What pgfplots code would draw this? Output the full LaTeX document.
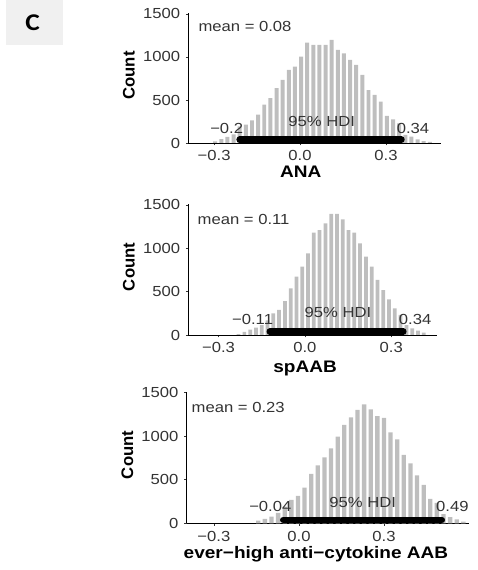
\documentclass[border=0pt]{standalone}
\usepackage{pgfplots}
\pgfplotsset{compat=1.18}
\usepackage{fontspec}
\setmainfont{Liberation Sans}[FakeStretch=1.14]
\newfontfamily\plainsans{Liberation Sans}
\newfontfamily\panelfont{Carlito}[FakeStretch=1.14]
\definecolor{bargray}{HTML}{BEBEBE}
\definecolor{txtgray}{HTML}{333333}
\definecolor{boxgray}{HTML}{F0F0F0}

\tikzset{txt/.style={font=\fontsize{14.6}{16}\selectfont, text=txtgray, inner sep=0pt}}
\pgfplotsset{
  hdiax/.style={
    scale only axis, anchor=south west, clip=false,
    axis x line*=bottom, axis y line*=left,
    axis line style={-, line width=0.9pt, black},
    ymin=0, ymax=1510,
    ytick={0,500,1000,1500}, yticklabels={0,500,1000,1500},
    xtick={-0.3,0,0.3}, xticklabels={−0.3,0.0,0.3},
    tick align=outside, major tick length=2.5pt,
    tick style={black!80, line width=0.6pt},
    tick label style={font=\fontsize{14.6}{16}\selectfont, text=txtgray, inner sep=0pt},
    xticklabel style={anchor=north, yshift=-5pt},
    yticklabel style={anchor=east, xshift=-5.5pt},
    xlabel style={font=\fontsize{16.7}{18}\selectfont\bfseries, anchor=base},
    ylabel={Count},
    ylabel style={font=\plainsans\fontsize{16.7}{18}\selectfont\bfseries,
      at={([xshift=-59.3pt]axis description cs:0,0.52)}, anchor=center},
  },
  bars/.style={ybar, bar shift=0pt, fill=bargray, draw=none},
  hdi/.style={black, line width=6.5pt, line cap=round},
}

\begin{document}
\begin{tikzpicture}
\useasboundingbox (0,0) rectangle (478pt,570pt);
\fill[boxgray] (6pt,525pt) rectangle (63pt,570pt);
\node[font=\panelfont\bfseries\fontsize{24}{26}\selectfont] at (32.5pt,547.5pt) {C};

% ANA
\begin{axis}[hdiax, at={(188.3pt,427pt)}, width=252.7pt, height=129.9pt,
  xmin=-0.39, xmax=0.492, xlabel={ANA},
  xlabel style={at={([yshift=-35pt]axis description cs:0.445,0)}}]
\addplot[bars, bar width=0.0139] coordinates {
(-0.2960,19) (-0.2747,46) (-0.2533,70) (-0.2319,100) (-0.2105,193) (-0.1891,213)
(-0.1677,263) (-0.1463,329) (-0.1249,445) (-0.1035,522) (-0.0821,638) (-0.0607,735)
(-0.0393,850) (-0.0179,889) (0.0035,1005) (0.0249,1167) (0.0463,1140) (0.0677,1140)
(0.0891,1140) (0.1105,1198) (0.1319,1081) (0.1533,1043) (0.1747,965) (0.1961,907)
(0.2175,791) (0.2389,616) (0.2603,558) (0.2817,481) (0.3031,314) (0.3245,275)
(0.3459,229) (0.3673,93) (0.3887,74) (0.4101,43) (0.4315,23) (0.4529,12)
};
\addplot[hdi] coordinates {(-0.211,38) (0.354,38)};
\node[txt, anchor=west] at (axis cs:-0.355,1352) {mean = 0.08};
\node[txt] at (axis cs:0.0756,250) {95\% HDI};
\node[txt, anchor=east] at (axis cs:-0.198,174) {−0.2};
\node[txt, anchor=west] at (axis cs:0.337,174) {0.34};
\end{axis}

% spAAB
\begin{axis}[hdiax, at={(188.3pt,235pt)}, width=249pt, height=130.9pt,
  xmin=-0.405, xmax=0.46, xlabel={spAAB},
  xlabel style={at={([yshift=-38pt]axis description cs:0.469,0)}}]
\addplot[bars, bar width=0.0130] coordinates {
(-0.2303,10) (-0.2102,35) (-0.1901,62) (-0.1700,85) (-0.1499,115) (-0.1298,170)
(-0.1097,250) (-0.0896,290) (-0.0695,390) (-0.0494,538) (-0.0293,673) (-0.0092,788)
(0.0109,942) (0.0310,1180) (0.0511,1211) (0.0712,1288) (0.0913,1396) (0.1114,1396)
(0.1315,1335) (0.1516,1211) (0.1717,1180) (0.1918,1057) (0.2119,904) (0.2320,788)
(0.2521,635) (0.2722,519) (0.2923,411) (0.3124,308) (0.3325,231) (0.3526,115)
(0.3727,77) (0.3928,50) (0.4129,27)
};
\addplot[hdi] coordinates {(-0.122,38) (0.342,38)};
\node[txt, anchor=west] at (axis cs:-0.373,1338) {mean = 0.11};
\node[txt] at (axis cs:0.115,255) {95\% HDI};
\node[txt, anchor=east] at (axis cs:-0.11,182) {−0.11};
\node[txt, anchor=west] at (axis cs:0.326,182) {0.34};
\end{axis}

% ever-high anti-cytokine AAB
\begin{axis}[hdiax, at={(186.7pt,46.7pt)}, width=282.6pt, height=131.5pt,
  xmin=-0.396, xmax=0.601, xlabel={ever−high anti−cytokine AAB},
  xlabel style={at={([yshift=-35pt]axis description cs:0.4575,0)}}]
\addplot[bars, bar width=0.0152] coordinates {
(-0.1435,31) (-0.1202,50) (-0.0968,77) (-0.0735,120) (-0.0501,191) (-0.0268,268)
(-0.0035,314) (0.0199,410) (0.0432,567) (0.0666,665) (0.0899,758) (0.1132,861)
(0.1366,995) (0.1599,1129) (0.1833,1215) (0.2066,1301) (0.2300,1365) (0.2533,1309)
(0.2766,1230) (0.3000,1210) (0.3233,1045) (0.3466,965) (0.3700,785) (0.3933,689)
(0.4167,550) (0.4400,440) (0.4633,280) (0.4867,235) (0.5100,105) (0.5334,70)
(0.5567,46) (0.5800,19)
};
\addplot[hdi] coordinates {(-0.0555,38) (0.504,38)};
\node[txt, anchor=west] at (axis cs:-0.379,1332) {mean = 0.23};
\node[txt] at (axis cs:0.225,235) {95\% HDI};
\node[txt, anchor=east] at (axis cs:-0.026,191) {−0.04};
\node[txt, anchor=west] at (axis cs:0.4835,191) {0.49};
\end{axis}
\end{tikzpicture}
\end{document}
